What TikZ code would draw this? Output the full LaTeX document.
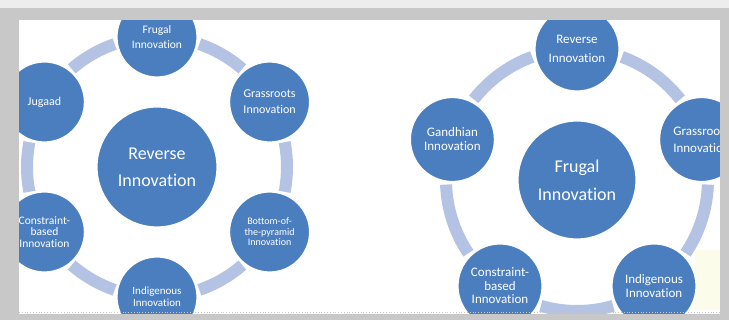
\documentclass[tikz,border=0pt]{standalone}
\usepackage{fontspec}
\setmainfont[Ligatures=NoCommon]{Carlito}
\usetikzlibrary{calc}
\definecolor{nodeblue}{HTML}{4A7EBF}
\definecolor{ringblue}{HTML}{B4C3E3}
\definecolor{framegray}{HTML}{C8C8C8}
\definecolor{framelight}{HTML}{EDEDED}
\definecolor{paleyellow}{HTML}{FCFCEA}
\begin{document}
\begin{tikzpicture}[x=1pt,y=1pt,
  disc/.style={circle, fill=nodeblue, draw=white, line width=1.2pt,
    minimum size=#1, inner sep=0pt, text=white, align=center},
  ringarc/.style={draw=ringblue, line width=12pt},
  fs/.style 2 args={font=\fontsize{#1}{#2}\selectfont}]
\useasboundingbox (0,0) rectangle (729,320);

\begin{scope}
\clip (19,6) rectangle (720,300);
\fill[paleyellow] (695,10) rectangle (720,70);

% ---------- left cycle: six satellites around Reverse Innovation ----------
\coordinate (C1) at (157,153);
\foreach \a in {90,30,-30,-90,-150,150}{
  \draw[ringarc] (C1) ++(\a-19:130) arc[start angle=\a-19, end angle=\a-41, radius=130];
}
\node[disc=120pt, fs={18}{27}] (lhub) at (C1) {Reverse\\Innovation};
\node[disc=80pt, fs={11.5}{15}] (lfru) at ($(C1)+(90:130)$) {Frugal\\Innovation};
\node[disc=80pt, fs={12}{16}] (lgra) at ($(C1)+(30:130)$) {Grassroots\\Innovation};
\node[disc=80pt, fs={10}{10.5}] (lbop) at ($(C1)+(-30:130)$) {Bottom-of-\\the-pyramid\\Innovation};
\node[disc=80pt, fs={11}{12}] (lind) at ($(C1)+(-90:130)$) {Indigenous\\Innovation};
\node[disc=80pt, fs={11.5}{11.5}] (lcon) at ($(C1)+(-150:130)$) {Constraint-\\based\\Innovation};
\node[disc=80pt, fs={12}{16}] (ljug) at ($(C1)+(150:130)$) {Jugaad};

% ---------- right cycle: five satellites around Frugal Innovation ----------
\coordinate (C2) at (577,140);
\foreach \a in {90,18,-54,-126,-198}{
  \draw[ringarc] (C2) ++(\a-20:131) arc[start angle=\a-20, end angle=\a-52, radius=131];
}
\node[disc=118pt, fs={18}{28}] (rhub) at (C2) {Frugal\\Innovation};
\node[disc=84pt, fs={13}{19}] (rrev) at ($(C2)+(90:131)$) {Reverse\\Innovation};
\node[disc=84pt, fs={13}{17}] (rgra) at ($(C2)+(18:131)$) {Grassroots\\Innovation};
\node[disc=84pt, fs={13}{13.5}] (rind) at ($(C2)+(-54:131)$) {Indigenous\\Innovation};
\node[disc=84pt, fs={13}{13.5}] (rcon) at ($(C2)+(-126:131)$) {Constraint-\\based\\Innovation};
\node[disc=84pt, fs={13}{14}] (rgan) at ($(C2)+(162:131)$) {Gandhian\\Innovation};
\end{scope}

% ---------- surrounding frame ----------
\fill[framelight] (0,312) rectangle (729,320);
\fill[framegray] (0,300) rectangle (729,312);
\fill[framegray] (0,0) rectangle (19,312);
\fill[framegray] (720,0) rectangle (729,312);
\fill[framegray] (0,0) rectangle (729,6);
\draw[framegray, dotted, line width=0.8pt] (19,8) -- (720,8);
\end{tikzpicture}
\end{document}
